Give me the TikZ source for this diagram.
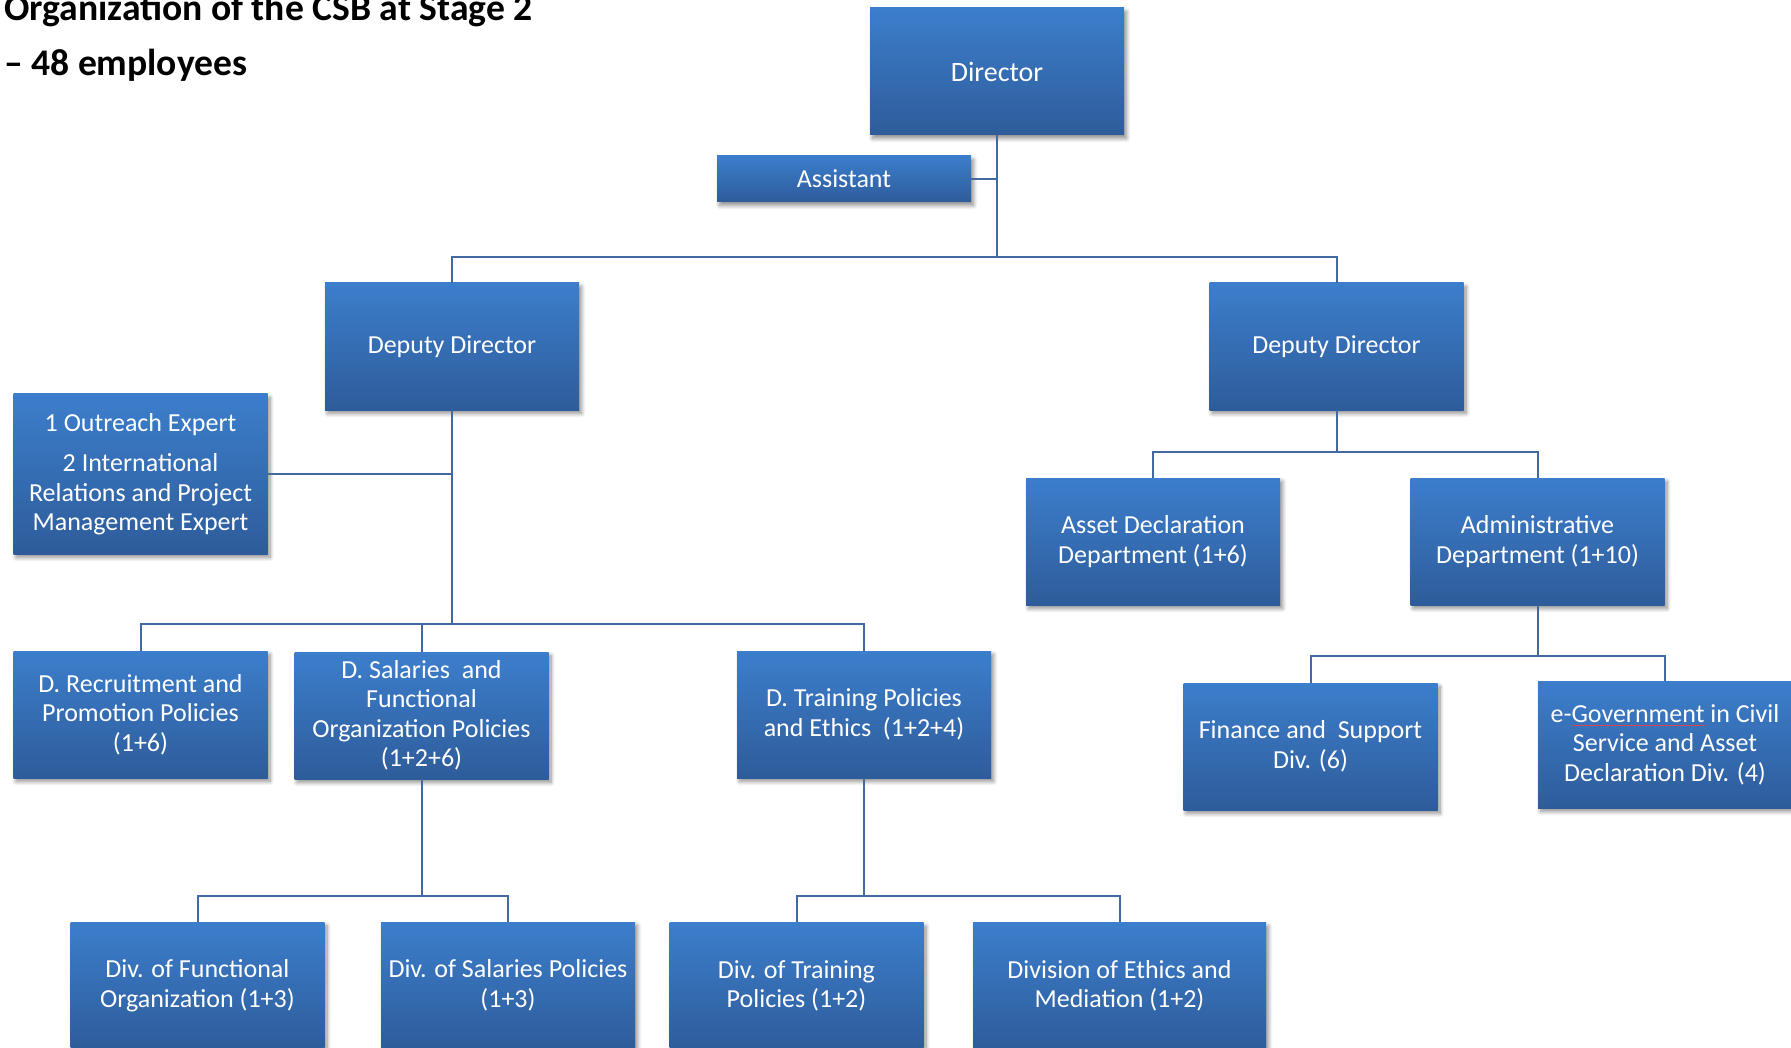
\documentclass[tikz,border=0pt]{standalone}
\usepackage{fontspec}
\setmainfont{Carlito}
\usetikzlibrary{shadows.blur}

\definecolor{boxtop}{RGB}{60,126,204}
\definecolor{boxbot}{RGB}{46,92,154}
\definecolor{wirecol}{RGB}{66,106,160}
\definecolor{squig}{RGB}{214,70,80}

% thin red spell-check mark under a word
\newsavebox\flagbox
\newcommand\spellflag[1]{\sbox\flagbox{#1}\rlap{\color{squig}\raisebox{-3.5pt}{\rule{\wd\flagbox}{0.9pt}}}\usebox\flagbox}

\begin{document}
\begin{tikzpicture}[x=1pt,y=-1pt,
  unit/.style={draw=none, top color=boxtop, bottom color=boxbot, text=white,
    align=center, minimum width=254pt, minimum height=127pt, inner sep=0pt,
    font=\fontsize{26}{29.5}\selectfont,
    blur shadow={shadow xshift=2.5pt, shadow yshift=-3.5pt, shadow blur radius=4pt,
      shadow blur steps=8, shadow opacity=45}},
  wire/.style={draw=wirecol, line width=2pt},
  heading/.style={anchor=base west, inner sep=0pt, font=\fontsize{37.6}{37.6}\selectfont\bfseries}
]
\useasboundingbox (0,0) rectangle (1791,1048);

% title
\node[heading] (title1) at (4,21) {Organization of the CSB at Stage 2};
\node[heading] (title2) at (4,76) {– 48 employees};

% top level
\node[unit, font=\fontsize{28}{31}\selectfont] (dir) at (997,71.5) {Director};
\node[unit, minimum height=46pt] (asst) at (844,179) {Assistant};
\node[unit] (dd1) at (452,346.5) {Deputy Director};
\node[unit] (dd2) at (1336.5,346.5) {Deputy Director};

% left branch
\node[unit, minimum height=160pt] (expert) at (140.5,474)
  {1 Outreach Expert\\[11pt]2 International\\Relations and Project\\Management Expert};
\node[unit] (drec) at (140.5,714.5) {D. Recruitment and\\Promotion Policies\\(1+6)};
\node[unit] (dsal) at (421.5,715.5) {D. Salaries\ \ and\\Functional\\Organization Policies\\(1+2+6)};
\node[unit] (dtrain) at (864,714.5) {D. Training Policies\\and Ethics\ \ (1+2+4)};
\node[unit] (dfun) at (197.5,985.5) {Div. of Functional\\Organization (1+3)};
\node[unit] (dsalp) at (508,985.5) {Div. of Salaries Policies\\(1+3)};
\node[unit] (dtrp) at (796.5,986) {Div. of Training\\Policies (1+2)};
\node[unit, minimum width=293pt] (deth) at (1119.5,986) {Division of Ethics and\\Mediation (1+2)};

% right branch
\node[unit] (asset) at (1153,541.5) {Asset Declaration\\Department (1+6)};
\node[unit] (admin) at (1537.5,541.5) {Administrative\\Department (1+10)};
\node[unit] (fin) at (1310.5,746.5) {Finance and\ \ Support\\Div. (6)};
\node[unit] (egov) at (1665,744.5) {e-\spellflag{Government} in Civil\\Service and Asset\\Declaration Div. (4)};

% connectors
\coordinate (j0) at (997,257);
\draw[wire] (dir.south) -- (j0);
\draw[wire] (asst.east) -- (asst.east -| dir.south);
\draw[wire] (dd1.north) |- (j0) -| (dd2.north);

\coordinate (j1) at (452,624);
\draw[wire] (dd1.south) -- (j1);
\draw[wire] (expert.east) -- (expert.east -| dd1.south);
\draw[wire] (drec.north) |- (j1) -| (dtrain.north);
\draw[wire] (dsal.north) -- (dsal.north |- j1);

\coordinate (j2) at (1336.5,452);
\draw[wire] (dd2.south) -- (j2);
\draw[wire] (asset.north) |- (j2) -| (admin.north);

\coordinate (j3) at (1537.5,656);
\draw[wire] (admin.south) -- (j3);
\draw[wire] (fin.north) |- (j3) -| (egov.north);

\coordinate (j4) at (421.5,895.5);
\draw[wire] (dsal.south) -- (j4);
\draw[wire] (dfun.north) |- (j4) -| (dsalp.north);

\coordinate (j5) at (864,895.5);
\draw[wire] (dtrain.south) -- (j5);
\draw[wire] (dtrp.north) |- (j5) -| (deth.north);
\end{tikzpicture}
\end{document}
